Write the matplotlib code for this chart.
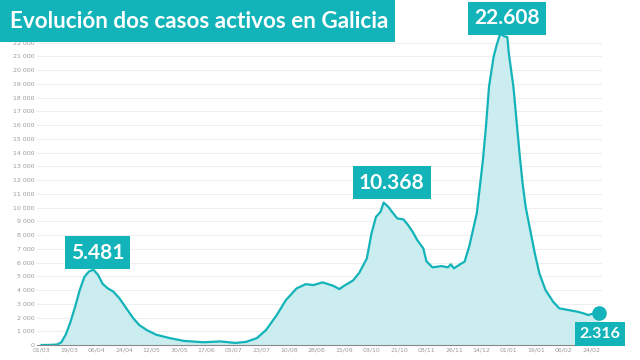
import matplotlib
matplotlib.use('Agg')
import matplotlib.pyplot as plt
import matplotlib.patches as mpatches
import numpy as np
import pandas as pd

# days since 01/03/2020 and active cases
days = [0, 5, 10, 13, 16, 19, 22, 25, 28, 31, 34, 37, 40, 43, 47, 51, 55, 60, 64, 69,
        75, 84, 93, 106, 117, 127, 134, 141, 147, 154, 160, 167, 173, 178, 184, 191, 195,
        198, 204, 208, 213, 216, 219, 222, 224, 227, 230, 233, 237, 240, 243, 246, 250,
        252, 256, 262, 266, 268, 270, 275, 277, 280, 282, 285, 287, 289, 291, 293, 296,
        298, 300, 301, 303, 305, 306, 309, 311, 313, 315, 317, 320, 323, 326, 330, 335,
        339, 345, 351, 355, 358, 360, 365]
casos = [0, 5, 30, 200, 800, 1700, 2800, 4000, 4950, 5350, 5481, 5100, 4450, 4150, 3880,
         3400, 2750, 1950, 1450, 1080, 750, 500, 300, 200, 260, 150, 230, 500, 1090, 2180,
         3270, 4120, 4430, 4360, 4560, 4310, 4070, 4300, 4700, 5250, 6300, 8100, 9330,
         9700, 10368, 10060, 9620, 9210, 9140, 8730, 8240, 7640, 7030, 6100, 5650, 5745,
         5650, 5870, 5580, 5940, 6060, 7150, 8120, 9580, 11510, 13450, 15880, 18790, 20970,
         21820, 22550, 22608, 22470, 22420, 21210, 18790, 16360, 13940, 11760, 10060, 8360,
         6670, 5210, 4000, 3150, 2670, 2545, 2420, 2300, 2180, 2250, 2316]

# labelled points: (day, value, label, x offset px, y offset px, font size)
etiquetas = [(34, 5481, '5.481', 4, 17, 15),
             (224, 10368, '10.368', 8, 20, 15),
             (301, 22608, '22.608', 6, 16, 15),
             (365, 2316, '2.316', 1, -21, 11.5)]

tick_days = list(range(0, 361, 18))
teal = '#12b3b9'
start = pd.Timestamp('2020-03-01')

fig = plt.figure(figsize=(6.4, 3.6), dpi=100)
ax = fig.add_axes([37 / 640, 15 / 360, 565 / 640, 316 / 360])

ax.fill_between(days, casos, color='#cbedef', lw=0)
ax.plot(days, casos, color=teal, lw=1.6, solid_joinstyle='round')
ax.plot(days[-1], casos[-1], 'o', color=teal, ms=9.5, zorder=6, clip_on=False)

for d, v, txt, dx, dy, fs in etiquetas:
    ax.annotate(txt, (d, v), xytext=(dx, dy), textcoords='offset pixels',
                ha='center', va='center', color='white', fontsize=fs,
                fontweight='bold', family='Lato',
                bbox=dict(boxstyle='square,pad=0.3', fc=teal, ec='none'),
                annotation_clip=False, zorder=5)

ax.set_xlim(-3, 367)
ax.set_ylim(0, 23000)
ax.set_yticks(range(0, 22001, 1000))
ax.set_yticklabels(['{:,}'.format(v).replace(',', ' ') for v in range(0, 22001, 1000)])
ax.set_xticks(tick_days)
ax.set_xticklabels([(start + pd.Timedelta(days=d)).strftime('%d/%m') for d in tick_days])
ax.tick_params(length=0, labelsize=4.5, labelcolor='#9a9a9a', pad=2)
ax.grid(axis='y', color='#eeeeee', lw=0.8)
ax.set_axisbelow(True)
for s in ['top', 'right', 'left']:
    ax.spines[s].set_visible(False)
ax.spines['bottom'].set_color('#888888')
ax.spines['bottom'].set_linewidth(0.8)

# title box
fig.patches.append(mpatches.Rectangle((0, 1 - 42 / 360), 395 / 640, 42 / 360,
                                      transform=fig.transFigure, fc=teal, ec='none', zorder=10))
fig.text(10 / 640, 1 - 21 / 360, 'Evolución dos casos activos en Galicia', color='white',
         fontsize=16.2, fontweight='bold', family='Lato', va='center', ha='left', zorder=11)

fig.savefig('out.png', dpi=100)
